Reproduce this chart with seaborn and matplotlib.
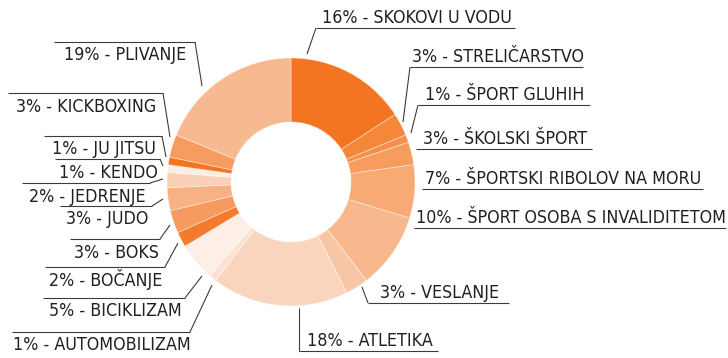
import matplotlib
matplotlib.use("Agg")
import matplotlib.pyplot as plt
from matplotlib.font_manager import FontProperties
import seaborn as sns

# Share of athletes per sport (%), clockwise from 12 o'clock
sports = [
    "SKOKOVI U VODU", "STRELIČARSTVO", "ŠPORT GLUHIH", "ŠKOLSKI ŠPORT",
    "ŠPORTSKI RIBOLOV NA MORU", "ŠPORT OSOBA S INVALIDITETOM", "VESLANJE",
    "ATLETIKA", "AUTOMOBILIZAM", "BICIKLIZAM", "BOČANJE", "BOKS", "JUDO",
    "JEDRENJE", "KENDO", "JU JITSU", "KICKBOXING", "PLIVANJE",
]
shares = [16, 3, 1, 3, 7, 10, 3, 18, 1, 5, 2, 3, 3, 2, 1, 1, 3, 19]

slice_colors = [
    "#F37521", "#F4873A", "#F5904A", "#F69D5E", "#F7AA74", "#F8B88D",
    "#F9C6A5", "#FAD5BD", "#FCE1D3", "#FDEEE6", "#F47B2D", "#F69A5F",
    "#F8B184", "#FAD1B7", "#FDEDE3", "#F37521", "#F69C61", "#F7B98F",
]

# Label layout in pixels (origin top-left):
# side, underline y, underline x0, x1, leader end point (or None)
label_layout = [
    ("R", 28, 316, 515, (307, 54)),
    ("R", 67, 410, 583, (403, 122)),
    ("R", 105, 418, 590, (411, 133)),
    ("R", 149, 416, 592, None),
    ("R", 189, 422, 703, None),
    ("R", 228, 414, 726, None),
    ("R", 303, 368, 509, (362, 287)),
    ("R", 351, 299, 438, (299, 308)),
    ("L", 332, 12, 190, (212, 285)),
    ("L", 298, 43, 185, (202, 276)),
    ("L", 267, 45, 165, (178, 243)),
    ("L", 239, 70, 160, (170, 225)),
    ("L", 206, 60, 152, (163, 199)),
    ("L", 183, 22, 150, (163, 179)),
    ("L", 159, 55, 160, (163, 166)),
    ("L", 136, 44, 162, (166, 157)),
    ("L", 93, 8, 163, (170, 137)),
    ("L", 42, 54, 195, (202, 86)),
]

W, H = 728, 358
CX, CY = 291, 182
R_OUT, R_IN = 124, 60

sns.set_theme(style="white")
plt.rcParams["font.family"] = ["DejaVu Sans"]

fig = plt.figure(figsize=(W / 100, H / 100), dpi=100)
ax = fig.add_axes([0, 0, 1, 1])

ax.pie(
    shares,
    colors=slice_colors,
    startangle=90,
    counterclock=False,
    center=(CX, H - CY),
    radius=R_OUT,
    wedgeprops=dict(width=R_OUT - R_IN, edgecolor=(1, 1, 1, 0.45), linewidth=0.6),
)
ax.set_xlim(0, W)
ax.set_ylim(0, H)
ax.set_aspect("equal")
ax.axis("off")

font = FontProperties(family="DejaVu Sans", stretch="condensed", size=12.8)
line_kw = dict(color="#3c3c3c", lw=0.8, solid_capstyle="butt")

for name, share, (side, ly, x0, x1, tip) in zip(sports, shares, label_layout):
    y = H - ly
    ax.plot([x0, x1], [y, y], **line_kw)
    if tip is not None:
        start = x0 if side == "R" else x1
        ax.plot([start, tip[0]], [y, H - tip[1]], **line_kw)
    ty = y + 5 if side == "R" else y - 18.5
    ax.text((x0 + x1) / 2 + 1, ty, f"{share}% - {name}", fontproperties=font,
            color="#231f20", ha="center", va="baseline")

fig.savefig("out.png", dpi=100)
